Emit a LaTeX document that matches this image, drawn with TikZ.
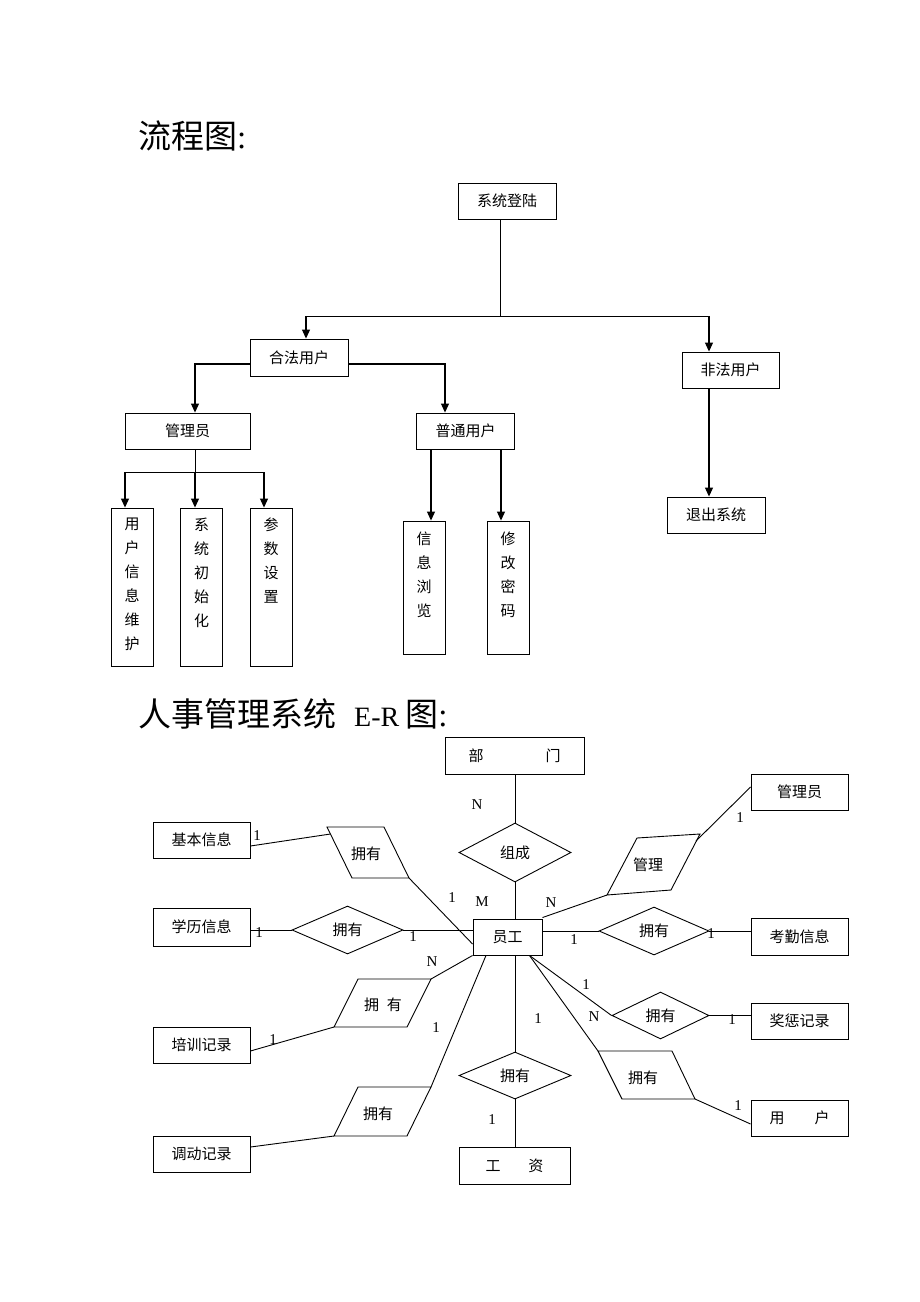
\documentclass[tikz,border=0pt]{standalone}
\usepackage{fontspec}
\setmainfont{Liberation Serif}
\newfontfamily\cjk{Noto Sans CJK SC}
\usetikzlibrary{arrows.meta,shapes.geometric}
\begin{document}
\begin{tikzpicture}[x=1pt,y=-1pt,
  box/.style={draw,line width=0.9pt,minimum width=#1,minimum height=36pt,inner sep=0pt,font=\cjk\fontsize{15}{18}\selectfont},
  vbox/.style={draw,line width=0.9pt,minimum width=42pt,minimum height=#1,inner sep=0pt},
  vtext/.style={anchor=north,yshift=-10pt,inner sep=0pt,align=center,font=\cjk\fontsize{15}{24}\selectfont},
  rel/.style={draw,line width=0.9pt,diamond,aspect=2.3,inner sep=0pt,font=\cjk\fontsize{15}{18}\selectfont},
  ln/.style={line width=0.9pt},
  arr/.style={line width=1.1pt,-{Triangle[length=9pt,width=8pt]}},
  lab/.style={font=\fontsize{15}{18}\selectfont,inner sep=0pt},
  ptext/.style={font=\cjk\fontsize{15}{18}\selectfont,inner sep=0pt}
]
\useasboundingbox (0,0) rectangle (920,1302);
% ---------------- titles
\node[anchor=west,inner sep=0pt] (t1) at (138,136) {{\cjk\fontsize{33}{36}\selectfont 流程图}{\fontsize{33}{36}\selectfont :}};
\node[anchor=west,inner sep=0pt] (t2) at (138,714) {{\cjk\fontsize{33}{36}\selectfont 人事管理系统}\hspace{18pt}{\fontsize{28}{32}\selectfont E-R}\hspace{6pt}{\cjk\fontsize{33}{36}\selectfont 图}{\fontsize{33}{36}\selectfont :}};
% ---------------- flowchart
\node[box=98pt] (login) at (507,201) {系统登陆};
\node[box=98pt,minimum height=37pt] (legal) at (299,357.5) {合法用户};
\node[box=97pt] (illegal) at (730.5,370) {非法用户};
\node[box=125pt] (admin) at (187.5,431) {管理员};
\node[box=98pt] (normal) at (465.5,431) {普通用户};
\node[box=98pt] (exit) at (716,515) {退出系统};
\node[vbox=158pt,label={[vtext]north:用\\户\\信\\息\\维\\护}] (v1) at (132,587) {};
\node[vbox=158pt,label={[vtext]north:系\\统\\初\\始\\化}] (v2) at (201.5,587) {};
\node[vbox=158pt,label={[vtext]north:参\\数\\设\\置}] (v3) at (271,587) {};
\node[vbox=133pt,label={[vtext,yshift=-1pt]north:信\\息\\浏\\览}] (v4) at (424,587.5) {};
\node[vbox=133pt,label={[vtext,yshift=-1pt]north:修\\改\\密\\码}] (v5) at (508,587.5) {};

\coordinate (j1) at ([xshift=-7pt,yshift=-97pt]login.south);
\draw[ln] ([xshift=-7pt]login.south) -- (j1);
\draw[arr] (j1) -| ([xshift=7pt]legal.north);
\draw[arr] (j1) -| ([xshift=-21.5pt]illegal.north);
\draw[arr] ([yshift=-6.5pt]legal.west) -| ([xshift=7.5pt]admin.north);
\draw[arr] ([yshift=-6.5pt]legal.east) -| ([xshift=-20.5pt]normal.north);
\coordinate (j2) at ([xshift=7.5pt,yshift=-23pt]admin.south);
\draw[ln] ([xshift=7.5pt]admin.south) -- (j2);
\draw[arr] (j2) -| ([xshift=-7pt]v1.north);
\draw[arr] (j2) -- ([xshift=-6.5pt]v2.north);
\draw[arr] (j2) -| ([xshift=-7pt]v3.north);
\draw[arr] ([xshift=-34.5pt]normal.south) -- ([xshift=7pt]v4.north);
\draw[arr] ([xshift=35.5pt]normal.south) -- ([xshift=-7pt]v5.north);
\draw[arr] ([xshift=-21.5pt]illegal.south) -- ([xshift=-7pt]exit.north);

% ---------------- E-R diagram
\node[box=139pt,minimum height=37pt] (dept) at (514.5,755.5) {部\hspace{62pt}门};
\node[rel,minimum width=112pt,minimum height=59pt] (zc) at (515,852.5) {组成};
\node[box=69pt] (emp) at (507.5,937) {员工};
\node[box=97pt] (jiben) at (201.5,840) {基本信息};
\node[box=97pt,minimum height=38pt] (xueli) at (201.5,927) {学历信息};
\node[box=97pt] (peixun) at (201.5,1045) {培训记录};
\node[box=97pt] (diaodong) at (201.5,1154) {调动记录};
\node[box=111pt,minimum height=37pt] (gongzi) at (514.5,1165.5) {工\hspace{28pt}资};
\node[box=97pt] (gly) at (799.5,792) {管理员};
\node[box=97pt,minimum height=37pt] (kaoqin) at (799.5,936.5) {考勤信息};
\node[box=97pt] (jc) at (799.5,1021) {奖惩记录};
\node[box=97pt] (yh) at (799.5,1118) {用\hspace{30pt}户};

\node[rel,minimum width=111pt,minimum height=48pt] (d2) at (347.5,930) {拥有};
\node[rel,minimum width=112pt,minimum height=47pt] (d6) at (515,1075.5) {拥有};
\node[rel,minimum width=110pt,minimum height=48pt] (d7) at (654,931) {拥有};
\node[rel,minimum width=97pt,minimum height=47pt] (d8) at (660.5,1015.5) {拥有};

% parallelograms
\coordinate (p1a) at (327,827); \coordinate (p1b) at (384,827);
\coordinate (p1c) at (409,878); \coordinate (p1d) at (352,878);
\draw[ln] (p1a) -- (p1b) -- (p1c) -- (p1d) -- cycle;
\node[ptext] (p1) at (366,854) {拥有};
\coordinate (p1l) at (330.4,834);

\coordinate (p2a) at (637,838); \coordinate (p2b) at (700,834);
\coordinate (p2c) at (671,890); \coordinate (p2d) at (607,895);
\draw[ln] (p2a) -- (p2b) -- (p2c) -- (p2d) -- cycle;
\node[ptext] (p2) at (648,865) {管理};
\coordinate (p2r) at (696,841);

\coordinate (p3a) at (358,979); \coordinate (p3b) at (431,979);
\coordinate (p3c) at (407,1027); \coordinate (p3d) at (334,1027);
\draw[ln] (p3a) -- (p3b) -- (p3c) -- (p3d) -- cycle;
\node[ptext] (p3) at (383,1005) {拥\hspace{8pt}有};

\coordinate (p4a) at (358,1087); \coordinate (p4b) at (431,1087);
\coordinate (p4c) at (407,1136); \coordinate (p4d) at (334,1136);
\draw[ln] (p4a) -- (p4b) -- (p4c) -- (p4d) -- cycle;
\node[ptext] (p4) at (378,1114) {拥有};

\coordinate (p5a) at (598,1051); \coordinate (p5b) at (672,1051);
\coordinate (p5c) at (695,1099); \coordinate (p5d) at (622,1099);
\draw[ln] (p5a) -- (p5b) -- (p5c) -- (p5d) -- cycle;
\node[ptext] (p5) at (643,1078) {拥有};

% connectors
\draw[ln] (dept.south -| zc.north) -- (zc.north);
\draw[ln] (zc.south) -- (zc.south |- emp.north);
\draw[ln] ([yshift=-6pt]jiben.east) -- (p1l);
\draw[ln] (p1c) -- ([yshift=-7pt]emp.west);
\draw[ln] (xueli.east |- d2.west) -- (d2.west);
\draw[ln] (d2.east) -- (d2.east -| emp.west);
\draw[ln] ([yshift=-6pt]peixun.east) -- (p3d);
\draw[ln] (p3b) -- (emp.south west);
\draw[ln] ([yshift=7pt]diaodong.east) -- (p4d);
\draw[ln] (p4b) -- ([xshift=-21.5pt]emp.south);
\draw[ln] (d6.north |- emp.south) -- (d6.north);
\draw[ln] (d6.south) -- (d6.south |- gongzi.north);
\draw[ln] ([yshift=5pt]gly.west) -- (p2r);
\draw[ln] (p2d) -- ([yshift=1pt]emp.north east);
\draw[ln] (emp.east |- d7.west) -- (d7.west);
\draw[ln] (d7.east) -- (d7.east -| kaoqin.west);
\draw[ln] ([xshift=-13pt]emp.south east) -- (d8.west);
\draw[ln] (d8.east) -- (d8.east -| jc.west);
\draw[ln] ([xshift=-13pt]emp.south east) -- (p5a);
\draw[ln] (p5c) -- ([yshift=-6pt]yh.west);

% cardinality labels
\node[lab] (l1) at (477,805) {N};
\node[lab] (l2) at (482,902) {M};
\node[lab] (l3) at (452,898) {1};
\node[lab] (l4) at (257,836) {1};
\node[lab] (l5) at (259,933) {1};
\node[lab] (l6) at (413,937) {1};
\node[lab] (l7) at (432,962) {N};
\node[lab] (l8) at (273,1040) {1};
\node[lab] (l9) at (436,1028) {1};
\node[lab] (l10) at (538,1019) {1};
\node[lab] (l11) at (492,1120) {1};
\node[lab] (l12) at (740,818) {1};
\node[lab] (l13) at (551,903) {N};
\node[lab] (l14) at (574,940) {1};
\node[lab] (l15) at (711,934) {1};
\node[lab] (l16) at (586,985) {1};
\node[lab] (l17) at (732,1020) {1};
\node[lab] (l18) at (594,1017) {N};
\node[lab] (l19) at (738,1106) {1};
\end{tikzpicture}
\end{document}
